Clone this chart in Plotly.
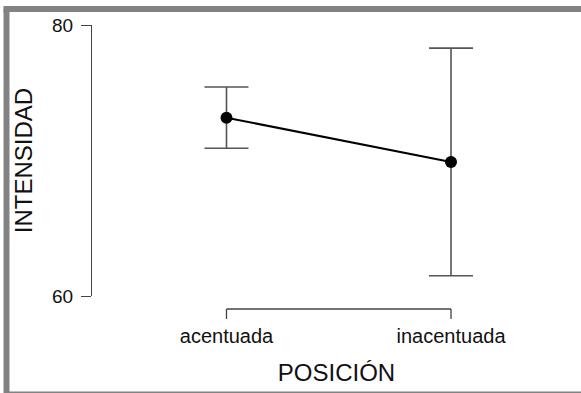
import plotly.graph_objects as go

# Mean intensity per stress position, with symmetric error half-widths
posiciones = ["acentuada", "inacentuada"]
medias = [73.16, 69.89]
errores = [2.26, 8.40]
y_ticks = [60, 80]

W, H = 581, 393
L, R, T, B = 92, 0, 25, 97
plot_w = W - L - R
plot_h = H - T - B


def px_to_paper_x(px):
    return (px - L) / plot_w


def px_to_paper_y(py):
    return (H - B - py) / plot_h


fig = go.Figure()

# error bars
fig.add_trace(go.Scatter(
    x=[0, 1], y=medias,
    mode="markers",
    marker=dict(size=1, color="rgba(0,0,0,0)"),
    error_y=dict(type="data", array=errores, visible=True,
                 color="#555555", thickness=1.6, width=22),
    hoverinfo="skip", showlegend=False,
))

# connecting line and points
fig.add_trace(go.Scatter(
    x=[0, 1], y=medias,
    mode="lines+markers",
    line=dict(color="#000000", width=2),
    marker=dict(size=12, color="#000000"),
    showlegend=False,
))

# detached x-axis bracket spanning the two categories
bracket_y = px_to_paper_y(309)
tick_end = px_to_paper_y(319)
axis_color = "#444444"
shapes = [
    dict(type="line", xref="x", yref="paper", x0=0, x1=1,
         y0=bracket_y, y1=bracket_y, line=dict(color=axis_color, width=1.3)),
]
for i in range(len(posiciones)):
    shapes.append(dict(type="line", xref="x", yref="paper", x0=i, x1=i,
                       y0=bracket_y, y1=tick_end,
                       line=dict(color=axis_color, width=1.3)))

# grey frame (top, left, bottom edges)
frame = dict(color="#828282", width=6)
fx0, fx1 = px_to_paper_x(6.5), px_to_paper_x(W)
fy_top, fy_bot = px_to_paper_y(9), px_to_paper_y(394.5)
shapes += [
    dict(type="line", xref="paper", yref="paper", x0=px_to_paper_x(3.5), x1=fx1,
         y0=fy_top, y1=fy_top, line=frame, layer="above"),
    dict(type="line", xref="paper", yref="paper", x0=fx0, x1=fx0,
         y0=fy_top, y1=fy_bot, line=frame, layer="above"),
    dict(type="line", xref="paper", yref="paper", x0=fx0, x1=fx1,
         y0=fy_bot, y1=fy_bot, line=frame, layer="above"),
]

fig.update_layout(
    width=W, height=H,
    margin=dict(l=L, r=R, t=T, b=B, pad=0),
    paper_bgcolor="white", plot_bgcolor="white",
    font=dict(family="Liberation Sans, Arial, sans-serif", color="#111111"),
    shapes=shapes,
    xaxis=dict(
        range=[-0.599, 1.579],
        tickmode="array", tickvals=[0, 1], ticktext=posiciones,
        showline=False, showgrid=False, zeroline=False, ticks="",
        tickfont=dict(size=20),
        ticklabelstandoff=26,
        title=dict(text="POSICIÓN", font=dict(size=24), standoff=18),
    ),
    yaxis=dict(
        range=[60, 80],
        tickmode="array", tickvals=y_ticks,
        showline=True, linecolor=axis_color, linewidth=1.3,
        ticks="outside", ticklen=10, tickwidth=1.3, tickcolor=axis_color,
        showgrid=False, zeroline=False,
        tickfont=dict(size=19),
        ticklabelstandoff=4,
        title=dict(text="INTENSIDAD", font=dict(size=24), standoff=12),
    ),
)

fig.write_html("out.html")
